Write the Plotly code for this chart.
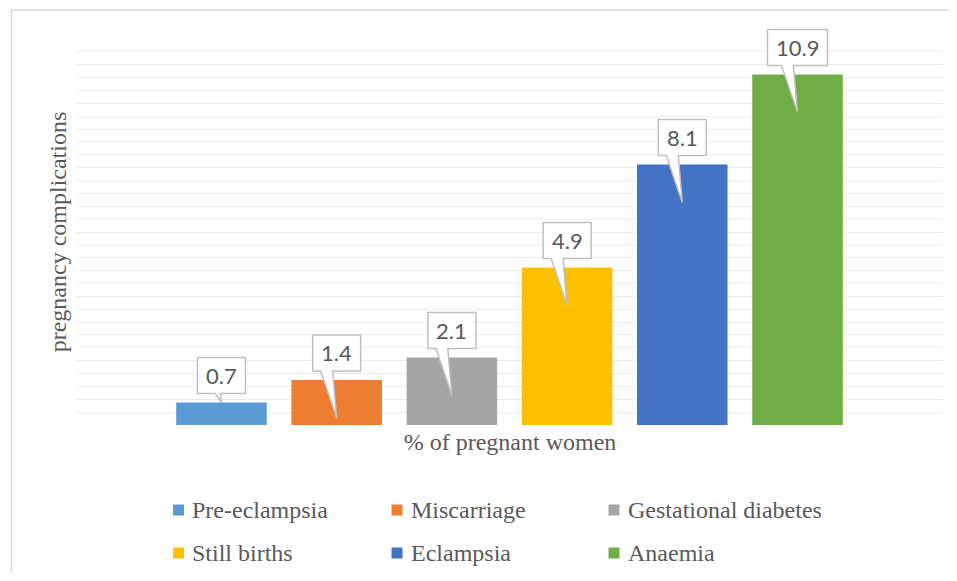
import plotly.graph_objects as go

# ---- data ----
categories = ["Pre-eclampsia", "Miscarriage", "Gestational diabetes",
              "Still births", "Eclampsia", "Anaemia"]
values = [0.7, 1.4, 2.1, 4.9, 8.1, 10.9]
value_labels = ["0.7", "1.4", "2.1", "4.9", "8.1", "10.9"]
colors = ["#5B9BD5", "#ED7D31", "#A5A5A5", "#FFC000", "#4472C4", "#70AD47"]
x_title = "% of pregnant women"
y_title = "pregnancy complications"

# ---- layout constants (figure sits 8px inside the page) ----
OFF = 8
W, H = 957 - 2 * OFF, 581 - 2 * OFF
ML, MR, MT, MB = 69, 6, 31, 148
plot_w = W - ML - MR
plot_h = H - MT - MB
Y_MAX = 12
X_RANGE = [-1.254, 6.263]
ppx = plot_w / (X_RANGE[1] - X_RANGE[0])
ppy = plot_h / Y_MAX

TXT = "#595959"
SERIF = "Liberation Serif, Times New Roman, serif"
SANS = "Lato, Open Sans, sans-serif"


def px_to_paper_x(px_page):
    return (px_page - OFF - ML) / plot_w


def px_to_paper_y(py_page):
    return (H - MB - (py_page - OFF)) / plot_h


def data_to_paper_x(xv):
    return (xv - X_RANGE[0]) / (X_RANGE[1] - X_RANGE[0])


def data_to_paper_y(yv):
    return yv / Y_MAX


xs = list(range(len(categories)))

fig = go.Figure()
for i, name in enumerate(categories):
    fig.add_trace(go.Bar(
        x=[xs[i]], y=[values[i]], name=name,
        marker=dict(color=colors[i], line=dict(width=0)),
        width=0.786, showlegend=False,
        hovertemplate=name + ": %{y}<extra></extra>",
    ))

shapes = []
annotations = []

# callout data labels (paper-referenced so they are not clipped at the plot top)
for i, (v, lab) in enumerate(zip(values, value_labels)):
    cx = xs[i]
    bw = (12 * len(lab) + 12) / ppx
    bh = 36 / ppy
    bb = v + 9 / ppy
    bt = bb + bh
    bar_px = v * ppy
    tip = v - 38 / ppy if bar_px > 45 else v
    L = (bb - tip) * ppy
    bl = min(16, 0.7 * L) / ppx
    br = min(4, 0.12 * L) / ppx
    pts = [(cx - bw / 2, bt), (cx + bw / 2, bt), (cx + bw / 2, bb),
           (cx - br, bb), (cx, tip), (cx - bl, bb), (cx - bw / 2, bb)]
    path = "M " + " L ".join(f"{data_to_paper_x(a):.5f},{data_to_paper_y(b):.5f}"
                             for a, b in pts) + " Z"
    shapes.append(dict(type="path", path=path, xref="paper", yref="paper",
                       fillcolor="white", line=dict(color="#BFBFBF", width=1.5),
                       layer="above"))
    annotations.append(dict(x=cx, y=(bb + bt) / 2, xref="x", yref="y",
                            text=lab, showarrow=False, yanchor="middle",
                            font=dict(family=SANS, size=22, color=TXT)))

# legend: 3 columns x 2 rows
col_x = [173, 391.5, 608.5]
row_y = [510, 553]
SW = 11
for i, name in enumerate(categories):
    r, c = divmod(i, 3)
    x0 = col_x[c]
    yc = row_y[r]
    shapes.append(dict(type="rect", xref="paper", yref="paper",
                       x0=px_to_paper_x(x0), x1=px_to_paper_x(x0 + SW),
                       y0=px_to_paper_y(yc + SW / 2), y1=px_to_paper_y(yc - SW / 2),
                       fillcolor=colors[i], line=dict(width=0)))
    annotations.append(dict(x=px_to_paper_x(x0 + SW + 6), y=px_to_paper_y(yc),
                            xref="paper", yref="paper", text=name,
                            showarrow=False, xanchor="left", yanchor="middle",
                            font=dict(family=SERIF, size=24, color=TXT)))

# outer chart border (only top/left edges are visible in the frame)
shapes.append(dict(type="rect", xref="paper", yref="paper",
                   x0=px_to_paper_x(11.5), x1=px_to_paper_x(1000),
                   y0=px_to_paper_y(10), y1=px_to_paper_y(640),
                   line=dict(color="#D9D9D9", width=1.5), fillcolor="rgba(0,0,0,0)",
                   layer="below"))

fig.update_layout(
    width=W, height=H,
    margin=dict(l=ML, r=MR, t=MT, b=MB, pad=0),
    paper_bgcolor="white", plot_bgcolor="white",
    barmode="overlay",
    showlegend=False,
    xaxis=dict(range=X_RANGE, showticklabels=False, showgrid=False,
               zeroline=False, showline=False, ticks="", fixedrange=True,
               title=dict(text=x_title, standoff=8,
                          font=dict(family=SERIF, size=24, color=TXT))),
    yaxis=dict(range=[0, Y_MAX], dtick=0.4, tick0=0, showticklabels=False,
               showgrid=True, gridcolor="#EBEBEB", gridwidth=1.3,
               zeroline=False, showline=False, ticks="", fixedrange=True,
               title=dict(text=y_title, standoff=2,
                          font=dict(family=SERIF, size=24, color=TXT))),
    shapes=shapes,
    annotations=annotations,
)

fig.write_html("out.html")
